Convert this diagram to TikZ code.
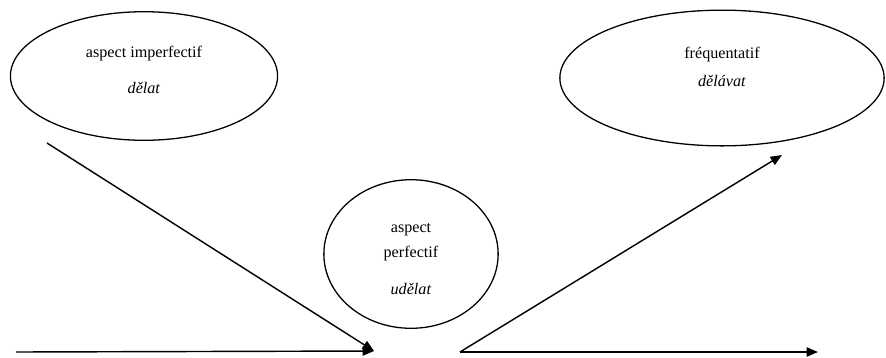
\documentclass[tikz,border=0pt]{standalone}
\usepackage{fontspec}
\setmainfont{Liberation Serif}
\usetikzlibrary{arrows.meta,shapes.geometric}

\begin{document}
\begin{tikzpicture}[
    x=0.7pt, y=-0.7pt,
    oval/.style={draw, ellipse, line width=0.9pt, inner sep=0pt},
    lbl/.style={align=center, inner sep=0pt, font=\fontsize{11.3}{13.6}\selectfont},
    arr/.style={-{Triangle[length=8pt,width=6.5pt]}, line width=1pt}
  ]
    \useasboundingbox (0,0) rectangle (886,357);
    % ellipses
    \node[oval, minimum width=187pt, minimum height=90pt] (imperf) at (144,76) {};
    \node[oval, minimum width=122pt, minimum height=104pt] (perf) at (411,254) {};
    \node[oval, minimum width=227pt, minimum height=95pt] (freq) at (722,78) {};
    % texts
    \node[lbl] (imperf-txt) at (144,70) {aspect imperfectif\\[12pt]\textit{dělat}};
    \node[lbl] (perf-txt) at (411,259) {aspect\\[4pt]perfectif\\[12.5pt]\textit{udělat}};
    \node[lbl] (freq-txt) at (722,67) {fréquentatif\\[6.5pt]\textit{dělávat}};

    \coordinate (imperf-out) at (47,143);
    \coordinate (src) at (16,352);
    \coordinate (perf-in) at (374,351);
    \coordinate (perf-out) at (460,352);
    \coordinate (freq-in) at (782,155);
    \coordinate (sink) at (818,352);

    \draw[arr] (imperf-out) -- (perf-in);
    \draw[arr] (src) -- (perf-in);
    \draw[arr] (perf-out) -- (freq-in);
    \draw[arr] (perf-out) -- (sink);
  \end{tikzpicture}
\end{document}
